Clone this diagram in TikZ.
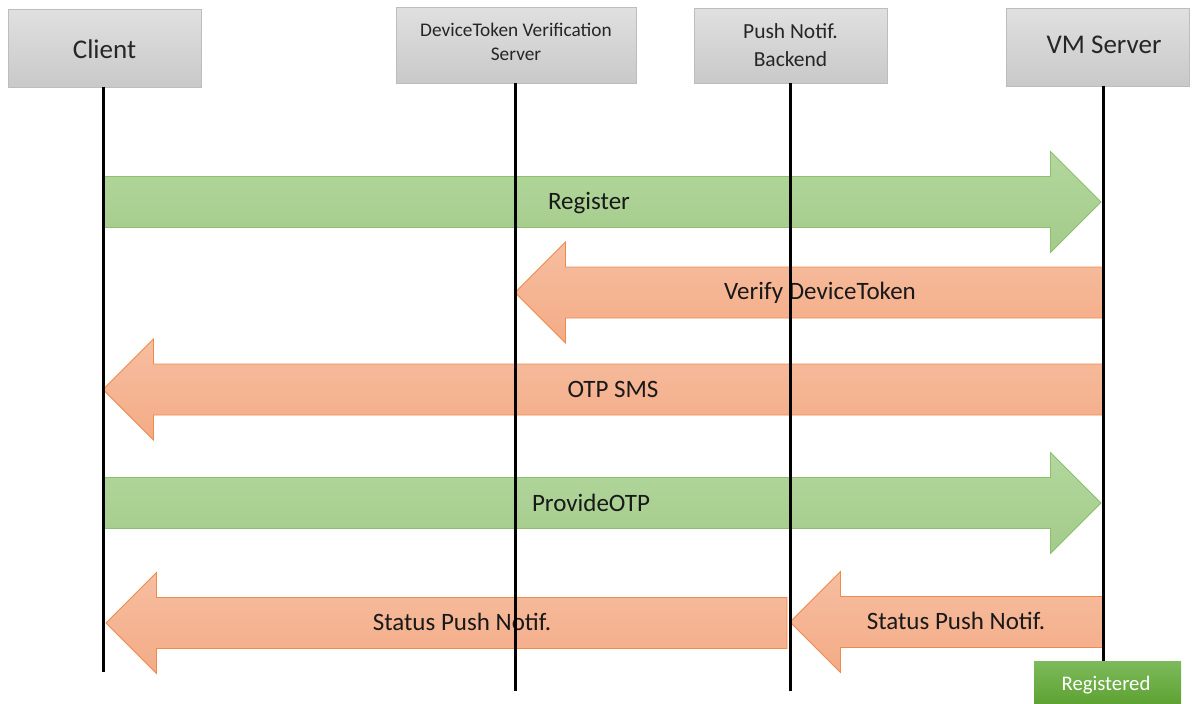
\documentclass[tikz,border=0pt]{standalone}
\usepackage{fontspec}
\setmainfont{Carlito}
\definecolor{hdrtop}{HTML}{E0E0E0}
\definecolor{hdrbot}{HTML}{C9C9C9}
\definecolor{hdrline}{HTML}{BDBDBD}
\definecolor{grntop}{HTML}{B3D79D}
\definecolor{grnbot}{HTML}{A3CB8A}
\definecolor{grnline}{HTML}{8DBF6E}
\definecolor{orgtop}{HTML}{F6BEA0}
\definecolor{orgbot}{HTML}{F4AB86}
\definecolor{orgline}{HTML}{EF8A4C}
\definecolor{regtop}{HTML}{7DBA5C}
\definecolor{regbot}{HTML}{5EA232}
\tikzset{
  header/.style={draw=hdrline, line width=0.8pt, top color=hdrtop, bottom color=hdrbot},
  hdrtext/.style={font=\fontsize{27}{30}\selectfont, text=black!85, inner sep=0pt},
  hdrsmall/.style={text=black!85, inner sep=0pt, align=center},
  lifeline/.style={line width=3pt, black},
  greenarrow/.style={draw=grnline, line width=0.8pt, top color=grntop, bottom color=grnbot},
  orangearrow/.style={draw=orgline, line width=0.8pt, top color=orgtop, bottom color=orgbot},
  msg/.style={font=\fontsize{25}{30}\selectfont, text=black!90, inner sep=0pt},
  regbox/.style={top color=regtop, bottom color=regbot, draw=none},
}
% block arrow: style, tail x, tip x, middle y
\newcommand\flowarrow[4]{%
  \pgfmathsetmacro\headx{#3-50.5*sign(#3-#2)}%
  \draw[#1] (#2,#4-25.5) -- (\headx,#4-25.5) -- (\headx,#4-50.5) -- (#3,#4)
    -- (\headx,#4+50.5) -- (\headx,#4+25.5) -- (#2,#4+25.5) -- cycle;}
\begin{document}
\begin{tikzpicture}[x=1pt,y=-1pt]
\useasboundingbox (0,0) rectangle (1194,704);

% participants
\draw[header] (8,9) rectangle (201,87);
\node[hdrtext] (client) at (104.5,49) {Client};
\draw[header] (396,7) rectangle (636,83);
\node[hdrsmall, font=\fontsize{19.3}{24}\selectfont] (dtv) at (516,42) {DeviceToken Verification\\Server};
\draw[header] (694,8) rectangle (887,83);
\node[hdrsmall, font=\fontsize{21.5}{28}\selectfont] (push) at (790.5,45) {Push Notif.\\Backend};
\draw[header] (1006,8) rectangle (1189,86);
\node[hdrtext] (vm) at (1104,45) {VM Server};

% lifeline ends
\coordinate (cTop) at (103,87);   \coordinate (cBot) at (103,672);
\coordinate (dTop) at (515,83);   \coordinate (dBot) at (515,691);
\coordinate (pTop) at (790,83);   \coordinate (pBot) at (790,691);
\coordinate (vTop) at (1103,86);  \coordinate (vBot) at (1103,661);

% messages
\flowarrow{greenarrow}{103}{1101}{202}
\node[msg] (register) at (589,203) {Register};
\flowarrow{orangearrow}{1103}{515}{292.5}
\node[msg] (verify) at (820,293) {Verify DeviceToken};
\flowarrow{orangearrow}{1103}{103}{389.5}
\node[msg] (otp) at (613,389) {OTP SMS};
\flowarrow{greenarrow}{103}{1101}{503}
\node[msg] (provide) at (591,503) {ProvideOTP};
\flowarrow{orangearrow}{787}{106}{623}
\node[msg] (statusA) at (462,622) {Status Push Notif.};
\flowarrow{orangearrow}{1103}{790}{622}
\node[msg] (statusB) at (956,621) {Status Push Notif.};

% lifelines over the messages
\draw[lifeline] (cTop) -- (cBot);
\draw[lifeline] (dTop) -- (dBot);
\draw[lifeline] (pTop) -- (pBot);
\draw[lifeline] (vTop) -- (vBot);

% final state
\fill[regbox] (1034,661) rectangle (1181,704);
\node[font=\fontsize{20.7}{24}\selectfont, text=white, inner sep=0pt] (registered) at (1106,685) {Registered};
\end{tikzpicture}
\end{document}
